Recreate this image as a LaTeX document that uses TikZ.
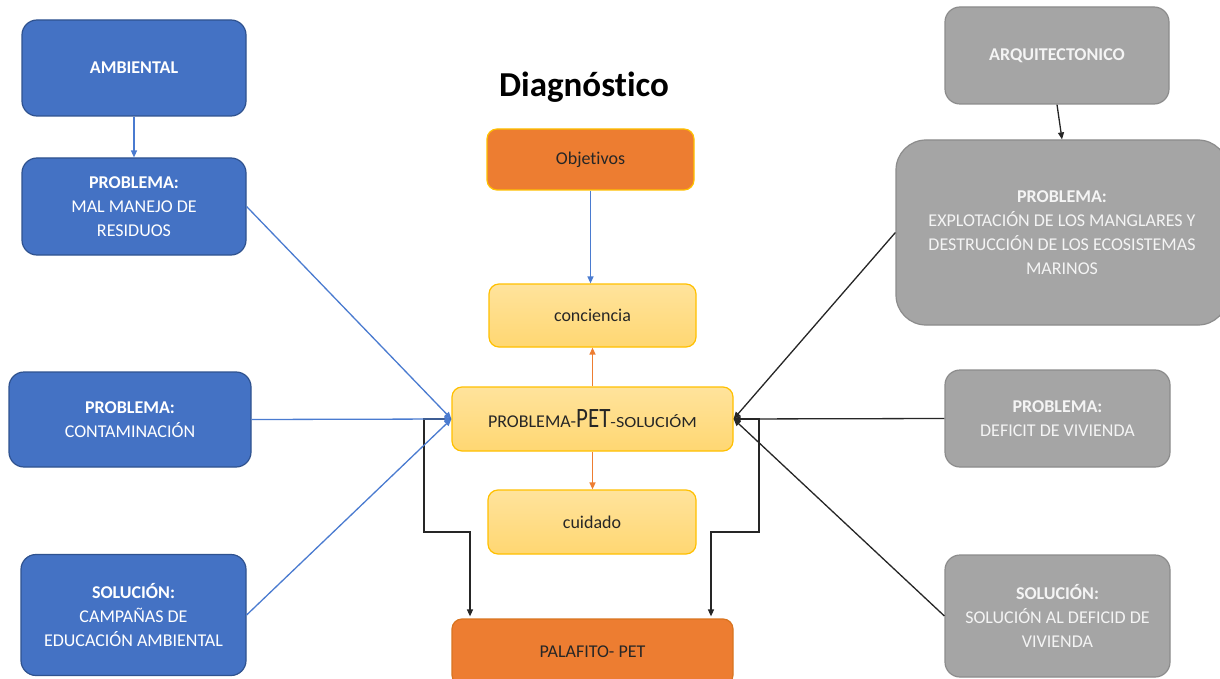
\documentclass[tikz,border=0pt]{standalone}
\usepackage{fontspec}
\setmainfont{Carlito}[Ligatures={NoCommon}]
\usetikzlibrary{arrows.meta,calc}

\definecolor{bluefill}{HTML}{4472C4}
\definecolor{blueedge}{HTML}{2F528F}
\definecolor{grayfill}{HTML}{A5A5A5}
\definecolor{grayedge}{HTML}{8C8C8C}
\definecolor{orangefill}{HTML}{ED7D31}
\definecolor{orangeedge}{HTML}{D9741F}
\definecolor{goldedge}{HTML}{FFC000}
\definecolor{lightA}{HTML}{FFE39C}
\definecolor{lightB}{HTML}{FFD772}
\definecolor{linkblue}{HTML}{4A7BD0}
\definecolor{linkorange}{HTML}{ED7D31}
\definecolor{txtdark}{HTML}{262626}
\definecolor{graytext}{HTML}{F4F4F4}

\tikzset{
  basebox/.style={rectangle, rounded corners=15pt, line width=1.2pt, inner sep=0pt,
    align=center, font=\fontsize{18}{24}\selectfont},
  bluebox/.style={basebox, fill=bluefill, draw=blueedge, text=white},
  graybox/.style={basebox, fill=grayfill, draw=grayedge, text=graytext},
  orangebox/.style={basebox, rounded corners=10pt, fill=orangefill, draw=goldedge, text=txtdark},
  lightbox/.style={basebox, rounded corners=10pt, top color=lightA, bottom color=lightB,
    draw=goldedge, text=txtdark},
  tip/.style={-{Triangle[length=7pt,width=6pt]}},
  bluelink/.style={tip, draw=linkblue, line width=1.3pt},
  orangelink/.style={tip, draw=linkorange, line width=1.3pt},
  blacklink/.style={tip, draw=black!85, line width=1.3pt},
}

\begin{document}
\begin{tikzpicture}[x=1pt, y=-1pt]
  \clip (0,0) rectangle (1220,679);
  \fill[white] (0,0) rectangle (1220,679);

  % title
  \node[anchor=base, font=\bfseries\fontsize{35}{40}\selectfont, text=black] (title)
    at (584,97) {Diagnóstico};

  % environmental column
  \node[bluebox, minimum width=224, minimum height=96] (amb) at (134,68)
    {\textbf{AMBIENTAL}};
  \node[bluebox, minimum width=224, minimum height=97] (mal) at (134,206.5)
    {\textbf{PROBLEMA:}\\MAL MANEJO DE\\RESIDUOS};
  \node[bluebox, minimum width=242, minimum height=95] (cont) at (130,419.5)
    {\textbf{PROBLEMA:}\\CONTAMINACIÓN};
  \node[bluebox, minimum width=225, minimum height=121] (camp) at (133.5,615)
    {\textbf{SOLUCIÓN:}\\CAMPAÑAS DE\\EDUCACIÓN AMBIENTAL};

  % central column
  \node[orangebox, minimum width=207, minimum height=61] (obj) at (590.5,159.5)
    {Objetivos};
  \node[lightbox, minimum width=207, minimum height=63] (conc) at (592.5,315.5)
    {conciencia};
  \node[lightbox, minimum width=281, minimum height=64] (pps) at (592.5,419)
    {PROBLEMA-{\fontsize{28}{30}\selectfont\scalebox{0.82}[1]{PET}}%
     {\fontsize{15.5}{18}\selectfont\scalebox{1.17}[1]{-SOLUCIÓM}}};
  \node[lightbox, minimum width=208, minimum height=64] (cuid) at (592,522)
    {cuidado};
  \node[orangebox, draw=orangeedge, minimum width=281, minimum height=66] (pal) at (592.5,652)
    {PALAFITO- PET};

  % architectural column
  \node[graybox, minimum width=224, minimum height=97] (arq) at (1057,55.5)
    {\textbf{ARQUITECTONICO}};
  \node[graybox, rounded corners=30pt, minimum width=332, minimum height=185] (expl) at (1062,232.5)
    {\textbf{PROBLEMA:}\\EXPLOTACIÓN DE LOS MANGLARES Y\\DESTRUCCIÓN DE LOS ECOSISTEMAS\\MARINOS};
  \node[graybox, minimum width=225, minimum height=97] (def) at (1057.5,418.5)
    {\textbf{PROBLEMA:}\\DEFICIT DE VIVIENDA};
  \node[graybox, minimum width=225, minimum height=122] (sol) at (1057.5,616)
    {\textbf{SOLUCIÓN:}\\SOLUCIÓN AL DEFICID DE\\VIVIENDA};

  % elbow routing points towards the palafito
  \coordinate (lk1) at (424,532);
  \coordinate (lk2) at (470,532);
  \coordinate (rk1) at (759,532);
  \coordinate (rk2) at (711,532);

  % black elbow connectors
  \draw[blacklink, shorten >=2pt] (pps.west) -| (lk1) -- (lk2) -- (lk2 |- pal.north);
  \draw[blacklink, shorten >=2pt] (pps.east) -| (rk1) -- (rk2) -- (rk2 |- pal.north);

  % blue connectors
  \draw[bluelink] (amb) -- (mal);
  \draw[bluelink] (mal.east) -- (pps.west);
  \draw[bluelink] (cont.east) -- (pps.west);
  \draw[bluelink] (camp.east) -- (pps.west);
  \draw[bluelink] (obj.south) -- (obj.south |- conc.north);

  % orange connectors
  \draw[orangelink] (pps.north) -- (pps.north |- conc.south);
  \draw[orangelink] (pps.south) -- (pps.south |- cuid.north);

  % black connectors
  \draw[blacklink] (arq.south) -- (expl.north);
  \draw[blacklink] (expl.west) -- (pps.east);
  \draw[blacklink] (def.west) -- (pps.east);
  \draw[blacklink] (sol.west) -- (pps.east);
\end{tikzpicture}
\end{document}
